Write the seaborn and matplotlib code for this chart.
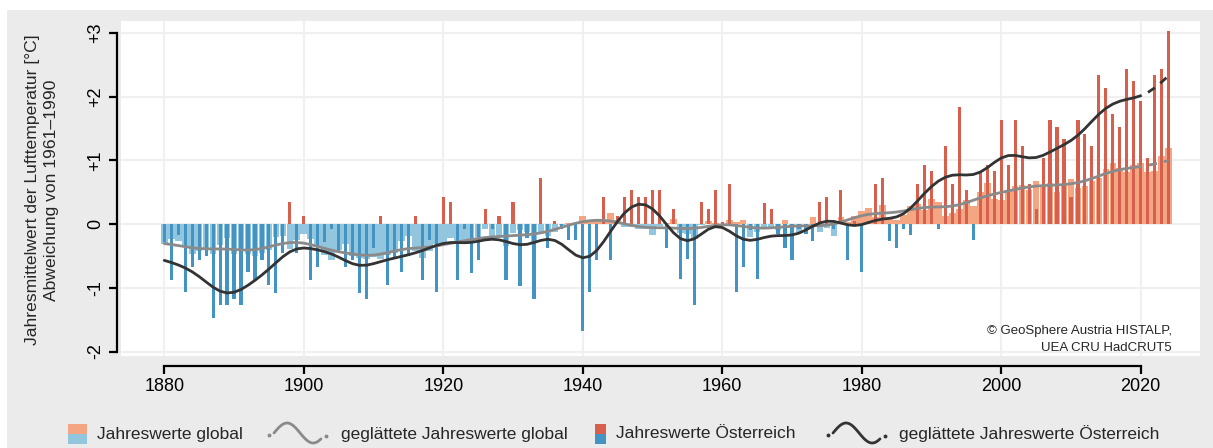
import numpy as np
import pandas as pd
import matplotlib
matplotlib.use("Agg")
import matplotlib.pyplot as plt
from matplotlib.patches import Rectangle
import seaborn as sns

# Jahresmittel der Lufttemperatur, Abweichung von 1961-1990 [°C]
years = np.arange(1880, 2025)

austria = [
    -0.28, -0.87, -0.17, -1.06, -0.67, -0.57, -0.50, -1.47, -1.27, -1.27,   # 1880
    -1.17, -1.27, -0.76, -0.87, -0.57, -0.96, -1.08, -0.45, 0.34, -0.46,    # 1890
    0.13, -0.87, -0.67, -0.28, -0.07, -0.45, -0.67, -0.57, -1.08, -1.17,    # 1900
    -0.38, 0.13, -0.96, -0.52, -0.76, -0.50, 0.13, -0.87, -0.25, -1.07,     # 1910
    0.43, 0.34, -0.87, -0.07, -0.77, -0.56, 0.23, -0.07, 0.13, -0.87,       # 1920
    0.34, -0.97, -0.22, -1.17, 0.73, -0.38, 0.04, -0.07, -0.25, -0.25,      # 1930
    -1.67, -1.07, -0.56, 0.43, -0.56, 0.13, 0.43, 0.53, 0.43, 0.43,         # 1940
    0.53, 0.53, -0.37, 0.23, -0.86, -0.55, -1.27, 0.34, 0.23, 0.53,         # 1950
    0.03, 0.63, -1.06, -0.67, -0.10, -0.86, 0.33, 0.23, -0.15, -0.37,       # 1960
    -0.57, -0.07, -0.16, -0.26, 0.34, 0.43, -0.07, 0.53, -0.57, 0.05,       # 1970
    -0.76, 0.05, 0.63, 0.73, -0.26, -0.37, -0.07, -0.17, 0.63, 0.93,        # 1980
    0.83, -0.07, 1.23, 0.63, 1.83, 0.53, -0.25, 0.83, 0.93, 0.83,           # 1990
    1.63, 0.93, 1.63, 1.23, 0.63, 0.23, 1.03, 1.63, 1.53, 1.34,             # 2000
    0.43, 1.63, 1.42, 1.23, 2.34, 2.14, 1.73, 1.53, 2.44, 2.24,             # 2010
    1.93, 1.04, 2.34, 2.44, 3.03,                                           # 2020
]

globe = [
    -0.31, -0.23, -0.26, -0.35, -0.47, -0.43, -0.40, -0.47, -0.33, -0.22,
    -0.47, -0.40, -0.47, -0.50, -0.45, -0.40, -0.21, -0.19, -0.39, -0.25,
    -0.15, -0.23, -0.36, -0.48, -0.56, -0.40, -0.31, -0.50, -0.54, -0.55,
    -0.52, -0.55, -0.49, -0.46, -0.26, -0.19, -0.42, -0.54, -0.42, -0.32,
    -0.30, -0.22, -0.32, -0.30, -0.29, -0.21, -0.08, -0.19, -0.19, -0.35,
    -0.14, -0.09, -0.13, -0.28, -0.13, -0.18, -0.13, -0.01, 0.02, 0.00,
    0.13, 0.06, 0.05, 0.06, 0.18, 0.07, -0.05, -0.05, -0.07, -0.08,
    -0.17, -0.03, 0.02, 0.08, -0.14, -0.16, -0.24, -0.01, 0.05, 0.01,
    -0.03, 0.06, 0.03, 0.06, -0.21, -0.13, -0.07, -0.06, -0.10, 0.06,
    -0.01, -0.12, 0.00, 0.11, -0.12, -0.06, -0.18, 0.11, 0.03, 0.12,
    0.20, 0.25, 0.11, 0.30, 0.10, 0.07, 0.14, 0.29, 0.32, 0.22,
    0.39, 0.35, 0.13, 0.17, 0.24, 0.38, 0.28, 0.50, 0.64, 0.39,
    0.38, 0.53, 0.60, 0.61, 0.53, 0.68, 0.62, 0.64, 0.50, 0.63,
    0.70, 0.57, 0.60, 0.67, 0.72, 0.87, 0.95, 0.88, 0.81, 0.92,
    0.95, 0.81, 0.83, 1.07, 1.19,
]

ytick_vals = [-2, -1, 0, 1, 2, 3]
ytick_labels = ["-2", "-1", "0", "+1", "+2", "+3"]
xtick_vals = [1880, 1900, 1920, 1940, 1960, 1980, 2000, 2020]


def gauss_smooth(values, sigma=2.6):
    # gaussian low pass, weights renormalised at the series edges
    v = np.asarray(values, dtype=float)
    i = np.arange(len(v))
    w = np.exp(-0.5 * ((i[:, None] - i[None, :]) / sigma) ** 2)
    return (w @ v) / w.sum(axis=1)


df = pd.DataFrame({"year": years, "at": austria, "glob": globe})
df["at_smooth"] = gauss_smooth(df["at"])
df["glob_smooth"] = gauss_smooth(df["glob"])
df["at_sign"] = np.where(df["at"] >= 0, "pos", "neg")
df["glob_sign"] = np.where(df["glob"] >= 0, "pos", "neg")

W, H = 1213, 448
sns.set_style("white")
plt.rcParams["font.family"] = ["Liberation Sans", "DejaVu Sans"]

fig = plt.figure(figsize=(W / 100, H / 100), dpi=100)
fig.patch.set_facecolor("white")
fig.patches.append(Rectangle((7 / W, 0), 1, 1 - 10 / H, transform=fig.transFigure,
                             facecolor="#ebebeb", edgecolor="none", zorder=-5))

ax = fig.add_axes([120.7 / W, 1 - 356 / H, 1079.3 / W, 335.3 / H])
ax.set_facecolor("white")

sns.barplot(data=df, x="year", y="glob", hue="glob_sign",
            palette={"pos": "#f4a582", "neg": "#92c5de"}, native_scale=True,
            dodge=False, width=0.95, errorbar=None, saturation=1, linewidth=0,
            legend=False, ax=ax, zorder=2)
sns.barplot(data=df, x="year", y="at", hue="at_sign",
            palette={"pos": "#d6604d", "neg": "#4393c3"}, native_scale=True,
            dodge=False, width=0.45, errorbar=None, saturation=1, linewidth=0,
            legend=False, ax=ax, zorder=3)

# smoothed curves, last five years dashed
solid = df[df["year"] <= 2019]
tail = df[df["year"] >= 2019]
sns.lineplot(data=solid, x="year", y="glob_smooth", color="#8a8a8a", lw=2, ax=ax, zorder=4)
sns.lineplot(data=tail, x="year", y="glob_smooth", color="#8a8a8a", lw=2,
             ax=ax, zorder=4).lines[-1].set_dashes([3, 2.5])
sns.lineplot(data=solid, x="year", y="at_smooth", color="#333333", lw=2, ax=ax, zorder=5)
sns.lineplot(data=tail, x="year", y="at_smooth", color="#333333", lw=2,
             ax=ax, zorder=5).lines[-1].set_dashes([3, 2.5])

ax.set_xlim(1873.75, 2028.5)
ax.set_ylim(-2.07, 3.19)
ax.set_xticks(xtick_vals)
ax.set_xticklabels([str(x) for x in xtick_vals])
ax.set_yticks(ytick_vals)
ax.set_yticklabels(ytick_labels)
ax.set_xlabel("")
ax.set_ylabel("")
ax.grid(True, color="#f0f0f0", lw=1.5)
ax.set_axisbelow(True)
for s in ["top", "right"]:
    ax.spines[s].set_visible(False)
ax.spines["left"].set_bounds(-2, 3)
ax.spines["left"].set_position(("outward", 3))
ax.spines["bottom"].set_bounds(1880, 2020)
ax.spines["bottom"].set_position(("outward", 7))
for s in ["left", "bottom"]:
    ax.spines[s].set_color("black")
    ax.spines[s].set_linewidth(1.6)
ax.tick_params(axis="both", which="major", direction="out", length=6, width=1.6,
               color="black", labelcolor="black", labelsize=13, bottom=True, left=True)
ax.tick_params(axis="y", pad=3, labelrotation=90)
ax.tick_params(axis="x", pad=2.5)
for lab in ax.get_yticklabels():
    lab.set_verticalalignment("center")

ax.text(1172 / W, 1 - 331 / H, "© GeoSphere Austria HISTALP,", transform=fig.transFigure,
        ha="right", va="center", fontsize=9.5)
ax.text(1172 / W, 1 - 348 / H, "UEA CRU HadCRUT5", transform=fig.transFigure,
        ha="right", va="center", fontsize=9.5)

fig.text(33 / W, 1 - 190 / H, "Jahresmittelwert der Lufttemperatur [°C]", rotation=90,
         ha="center", va="center", fontsize=12.6)
fig.text(52 / W, 1 - 190 / H, "Abweichung von 1961\u20131990", rotation=90,
         ha="center", va="center", fontsize=12.6)

# legend row drawn in pixel space
lax = fig.add_axes([0, 0, 1, 1])
lax.set_xlim(0, W)
lax.set_ylim(H, 0)
lax.axis("off")
lax.patch.set_visible(False)


def legend_patch(x, width, top, bottom):
    lax.add_patch(Rectangle((x, 424), width, 10, facecolor=top, edgecolor="none"))
    lax.add_patch(Rectangle((x, 434), width, 10, facecolor=bottom, edgecolor="none"))


def legend_wave(x0, color):
    t = np.linspace(0, 1, 60)
    lax.plot(x0 + 6 + 47 * t, 433 - 10 * np.sin(2 * np.pi * 0.9 * t), color=color, lw=2)
    lax.plot([x0 + 1, x0 + 58], [435.5, 436.5], ls="none", marker="o", ms=1.8, color=color)


legend_patch(68, 19, "#f4a582", "#92c5de")
lax.text(97, 434, "Jahreswerte global", va="center", fontsize=12.5)
legend_wave(268, "#8a8a8a")
lax.text(341, 434, "geglättete Jahreswerte global", va="center", fontsize=12.5)
legend_patch(595, 11, "#d6604d", "#4393c3")
lax.text(616, 434, "Jahreswerte Österreich", va="center", fontsize=12.5)
legend_wave(827, "#333333")
lax.text(899, 434, "geglättete Jahreswerte Österreich", va="center", fontsize=12.5)

fig.savefig("out.png", dpi=100)
